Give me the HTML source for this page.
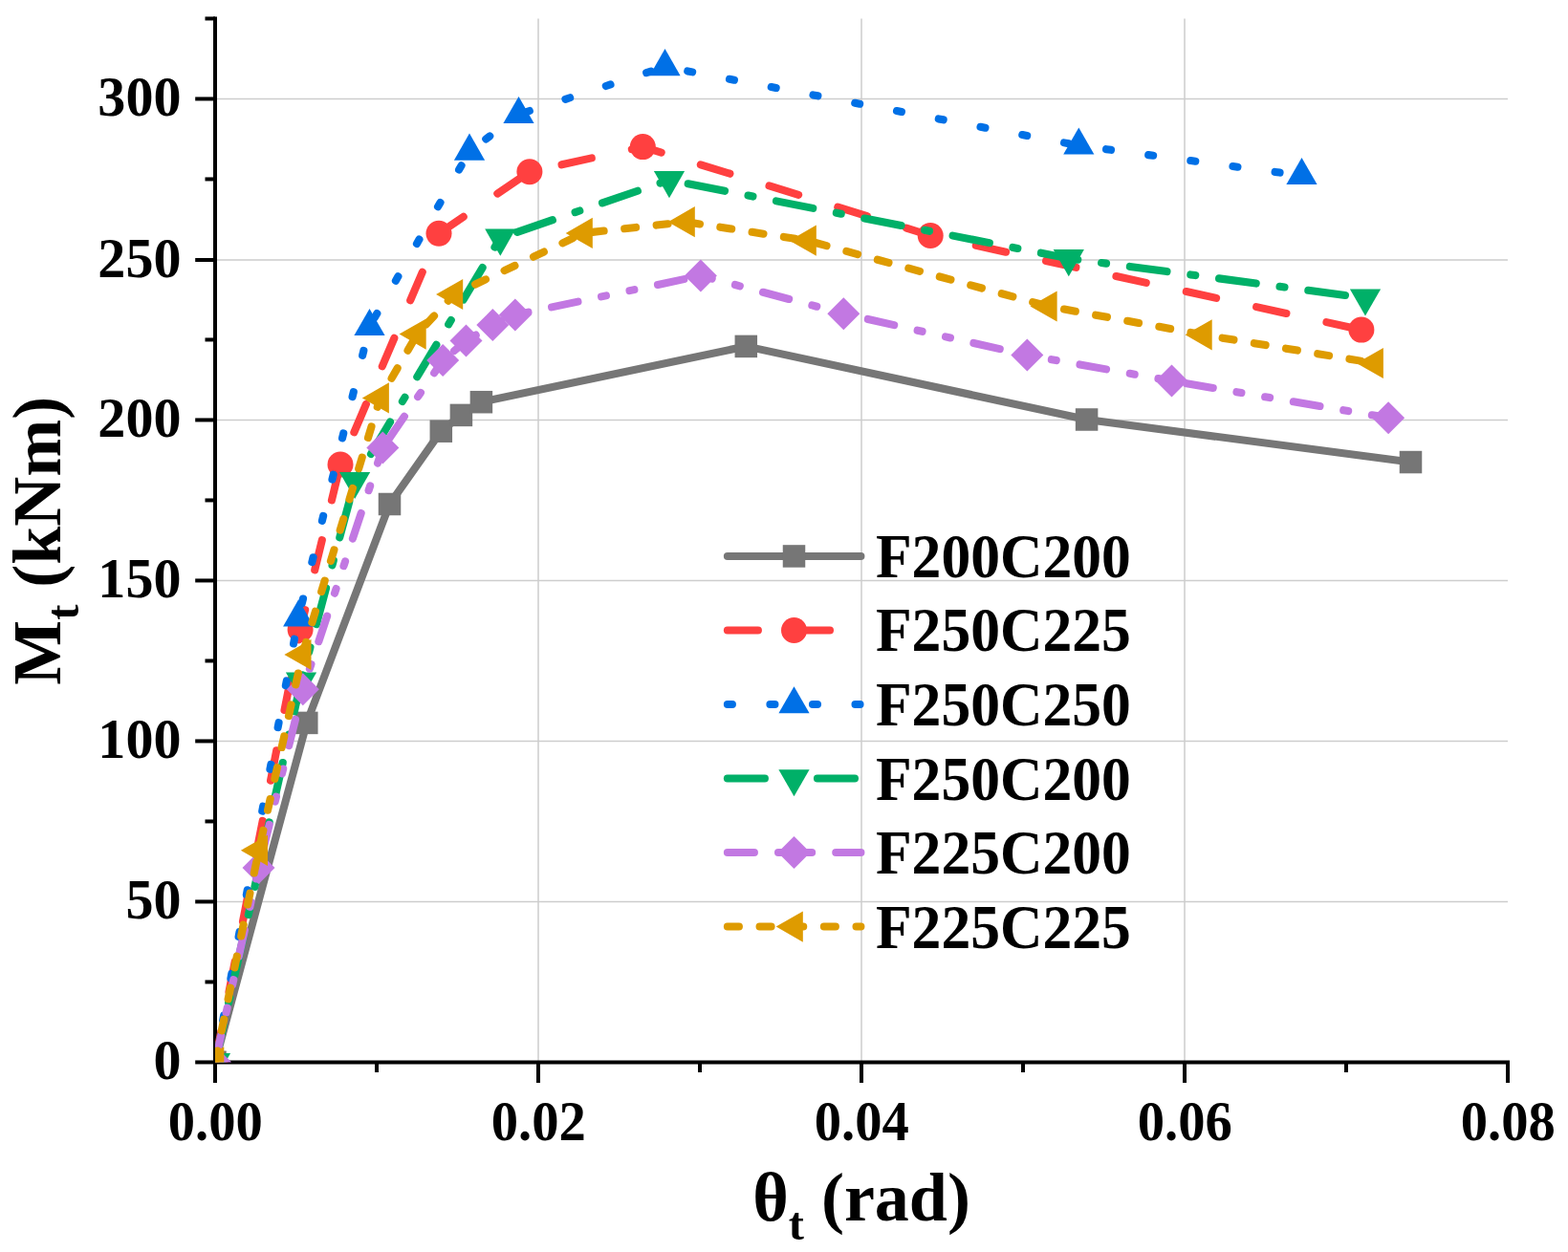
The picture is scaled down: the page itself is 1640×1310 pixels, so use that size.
<!DOCTYPE html>
<html lang="en"><head><meta charset="utf-8"><title>Moment-rotation curves</title>
<style>html,body{margin:0;padding:0;background:#fff}body{width:1640px;height:1310px;overflow:hidden}svg{display:block}text{font-family:'Liberation Serif', 'DejaVu Serif', serif;font-weight:bold;fill:#000}</style>
</head><body>
<svg width="1640" height="1310" viewBox="0 0 1640 1310">
<rect width="1640" height="1310" fill="#fff"/>
<defs><clipPath id="plot"><rect x="225" y="19.45" width="1372" height="1092"/></clipPath></defs>
<g stroke="#cdcdcd" stroke-width="1.5" fill="none">
<line x1="225" y1="943.45" x2="1577" y2="943.45"/>
<line x1="225" y1="775.45" x2="1577" y2="775.45"/>
<line x1="225" y1="607.45" x2="1577" y2="607.45"/>
<line x1="225" y1="439.45" x2="1577" y2="439.45"/>
<line x1="225" y1="272" x2="1577" y2="272"/>
<line x1="225" y1="103.45" x2="1577" y2="103.45"/>
<line x1="563" y1="19.45" x2="563" y2="1111.45"/>
<line x1="901" y1="19.45" x2="901" y2="1111.45"/>
<line x1="1239" y1="19.45" x2="1239" y2="1111.45"/>
</g>
<g stroke="#000" stroke-width="4" fill="none" stroke-linecap="butt">
<line x1="225" y1="17.45" x2="225" y2="1113.45"/>
<line x1="223" y1="1111.45" x2="1579" y2="1111.45"/>
<line x1="204.2" y1="1111.45" x2="225" y2="1111.45"/>
<line x1="214.5" y1="1027.45" x2="225" y2="1027.45"/>
<line x1="204.2" y1="943.45" x2="225" y2="943.45"/>
<line x1="214.5" y1="859.45" x2="225" y2="859.45"/>
<line x1="204.2" y1="775.45" x2="225" y2="775.45"/>
<line x1="214.5" y1="691.45" x2="225" y2="691.45"/>
<line x1="204.2" y1="607.45" x2="225" y2="607.45"/>
<line x1="214.5" y1="523.45" x2="225" y2="523.45"/>
<line x1="204.2" y1="439.45" x2="225" y2="439.45"/>
<line x1="214.5" y1="355.45" x2="225" y2="355.45"/>
<line x1="204.2" y1="272" x2="225" y2="272"/>
<line x1="214.5" y1="187.45" x2="225" y2="187.45"/>
<line x1="204.2" y1="103.45" x2="225" y2="103.45"/>
<line x1="214.5" y1="19.45" x2="225" y2="19.45"/>
<line x1="225" y1="1111.45" x2="225" y2="1133"/>
<line x1="394" y1="1111.45" x2="394" y2="1122"/>
<line x1="563" y1="1111.45" x2="563" y2="1133"/>
<line x1="732" y1="1111.45" x2="732" y2="1122"/>
<line x1="901" y1="1111.45" x2="901" y2="1133"/>
<line x1="1070" y1="1111.45" x2="1070" y2="1122"/>
<line x1="1239" y1="1111.45" x2="1239" y2="1133"/>
<line x1="1408" y1="1111.45" x2="1408" y2="1122"/>
<line x1="1577" y1="1111.45" x2="1577" y2="1133"/>
</g>
<g clip-path="url(#plot)">
<path d="M225 1111.3 L320.8 756.4 L407.5 527.5 L461.3 451.2 L482.4 434.4 L503.4 420.7 L780.3 362.4 L1136.6 439 L1475.5 483.55" fill="none" stroke="#767676" stroke-width="8.1" stroke-linecap="round" stroke-linejoin="round"/>
<rect x="213.25" y="1099.55" width="23.5" height="23.5" fill="#767676"/>
<rect x="309.05" y="744.65" width="23.5" height="23.5" fill="#767676"/>
<rect x="395.75" y="515.75" width="23.5" height="23.5" fill="#767676"/>
<rect x="449.55" y="439.45" width="23.5" height="23.5" fill="#767676"/>
<rect x="470.65" y="422.65" width="23.5" height="23.5" fill="#767676"/>
<rect x="491.65" y="408.95" width="23.5" height="23.5" fill="#767676"/>
<rect x="768.55" y="350.65" width="23.5" height="23.5" fill="#767676"/>
<rect x="1124.85" y="427.25" width="23.5" height="23.5" fill="#767676"/>
<rect x="1463.75" y="471.8" width="23.5" height="23.5" fill="#767676"/>
<path d="M225 1111.3 L314.1 658.8" fill="none" stroke="#FF4040" stroke-width="8.1" stroke-linecap="round" stroke-linejoin="round" stroke-dasharray="32 43.07"/>
<path d="M314.1 658.8 L356 486" fill="none" stroke="#FF4040" stroke-width="8.1" stroke-linecap="round" stroke-linejoin="round" stroke-dasharray="32 43.07" stroke-dashoffset="10.77"/>
<path d="M356 486 L459 244.3" fill="none" stroke="#FF4040" stroke-width="8.1" stroke-linecap="round" stroke-linejoin="round" stroke-dasharray="32 43.07" stroke-dashoffset="38.44"/>
<path d="M459 244.3 L553.9 179.7" fill="none" stroke="#FF4040" stroke-width="8.1" stroke-linecap="round" stroke-linejoin="round" stroke-dasharray="32 43.07" stroke-dashoffset="0.89"/>
<path d="M553.9 179.7 L672.3 153.6" fill="none" stroke="#FF4040" stroke-width="8.1" stroke-linecap="round" stroke-linejoin="round" stroke-dasharray="32 43.07" stroke-dashoffset="40.62"/>
<path d="M672.3 153.6 L973.2 246.5" fill="none" stroke="#FF4040" stroke-width="8.1" stroke-linecap="round" stroke-linejoin="round" stroke-dasharray="32 43.07" stroke-dashoffset="11.72"/>
<path d="M973.2 246.5 L1423.9 345.1" fill="none" stroke="#FF4040" stroke-width="8.1" stroke-linecap="round" stroke-linejoin="round" stroke-dasharray="32 43.07" stroke-dashoffset="26.36"/>
<circle cx="225" cy="1111.3" r="13.5" fill="#FF4040"/>
<circle cx="314.1" cy="658.8" r="13.5" fill="#FF4040"/>
<circle cx="356" cy="486" r="13.5" fill="#FF4040"/>
<circle cx="459" cy="244.3" r="13.5" fill="#FF4040"/>
<circle cx="553.9" cy="179.7" r="13.5" fill="#FF4040"/>
<circle cx="672.3" cy="153.6" r="13.5" fill="#FF4040"/>
<circle cx="973.2" cy="246.5" r="13.5" fill="#FF4040"/>
<circle cx="1423.9" cy="345.1" r="13.5" fill="#FF4040"/>
<path d="M225 1111.3 L312.2 646.1" fill="none" stroke="#0070E6" stroke-width="8.1" stroke-linecap="round" stroke-linejoin="round" stroke-dasharray="5 39.54"/>
<path d="M312.2 646.1 L386.5 341.7" fill="none" stroke="#0070E6" stroke-width="8.1" stroke-linecap="round" stroke-linejoin="round" stroke-dasharray="5 39.54" stroke-dashoffset="29.4"/>
<path d="M386.5 341.7 L491 158.4" fill="none" stroke="#0070E6" stroke-width="8.1" stroke-linecap="round" stroke-linejoin="round" stroke-dasharray="5 39.54" stroke-dashoffset="33.76"/>
<path d="M491 158.4 L542.5 119.7" fill="none" stroke="#0070E6" stroke-width="8.1" stroke-linecap="round" stroke-linejoin="round" stroke-dasharray="5 39.54" stroke-dashoffset="22.95"/>
<path d="M542.5 119.7 L695.5 69.9" fill="none" stroke="#0070E6" stroke-width="8.1" stroke-linecap="round" stroke-linejoin="round" stroke-dasharray="5 39.54" stroke-dashoffset="37.63"/>
<path d="M695.5 69.9 L1128.3 152.3" fill="none" stroke="#0070E6" stroke-width="8.1" stroke-linecap="round" stroke-linejoin="round" stroke-dasharray="5 39.54" stroke-dashoffset="20.38"/>
<path d="M1128.3 152.3 L1361.5 183.7" fill="none" stroke="#0070E6" stroke-width="8.1" stroke-linecap="round" stroke-linejoin="round" stroke-dasharray="5 39.54" stroke-dashoffset="15.55"/>
<polygon points="225,1092.5 208.9,1120.6 241.1,1120.6" fill="#0070E6"/>
<polygon points="312.2,627.3 296.1,655.4 328.3,655.4" fill="#0070E6"/>
<polygon points="386.5,322.9 370.4,351 402.6,351" fill="#0070E6"/>
<polygon points="491,139.6 474.9,167.7 507.1,167.7" fill="#0070E6"/>
<polygon points="542.5,100.9 526.4,129 558.6,129" fill="#0070E6"/>
<polygon points="695.5,51.1 679.4,79.2 711.6,79.2" fill="#0070E6"/>
<polygon points="1128.3,133.5 1112.2,161.6 1144.4,161.6" fill="#0070E6"/>
<polygon points="1361.5,164.9 1345.4,193 1377.6,193" fill="#0070E6"/>
<path d="M225 1111.3 L315 712.7" fill="none" stroke="#00B068" stroke-width="8.1" stroke-linecap="round" stroke-linejoin="round" stroke-dasharray="39 25.03 5 25.03"/>
<path d="M315 712.7 L371.1 503.2" fill="none" stroke="#00B068" stroke-width="8.1" stroke-linecap="round" stroke-linejoin="round" stroke-dasharray="39 25.03 5 25.03" stroke-dashoffset="32.39"/>
<path d="M371.1 503.2 L523.3 248.9" fill="none" stroke="#00B068" stroke-width="8.1" stroke-linecap="round" stroke-linejoin="round" stroke-dasharray="39 25.03 5 25.03" stroke-dashoffset="61.16"/>
<path d="M523.3 248.9 L700 188.4" fill="none" stroke="#00B068" stroke-width="8.1" stroke-linecap="round" stroke-linejoin="round" stroke-dasharray="39 25.03 5 25.03" stroke-dashoffset="75.34"/>
<path d="M700 188.4 L1117.8 270.4" fill="none" stroke="#00B068" stroke-width="8.1" stroke-linecap="round" stroke-linejoin="round" stroke-dasharray="39 25.03 5 25.03" stroke-dashoffset="73.99"/>
<path d="M1117.8 270.4 L1428 311.8" fill="none" stroke="#00B068" stroke-width="8.1" stroke-linecap="round" stroke-linejoin="round" stroke-dasharray="39 25.03 5 25.03" stroke-dashoffset="29.46"/>
<polygon points="225,1130.1 208.9,1102 241.1,1102" fill="#00B068"/>
<polygon points="315,731.5 298.9,703.4 331.1,703.4" fill="#00B068"/>
<polygon points="371.1,522 355,493.9 387.2,493.9" fill="#00B068"/>
<polygon points="523.3,267.7 507.2,239.6 539.4,239.6" fill="#00B068"/>
<polygon points="700,207.2 683.9,179.1 716.1,179.1" fill="#00B068"/>
<polygon points="1117.8,289.2 1101.7,261.1 1133.9,261.1" fill="#00B068"/>
<polygon points="1428,330.6 1411.9,302.5 1444.1,302.5" fill="#00B068"/>
<path d="M225 1111.3 L270.5 908.1" fill="none" stroke="#C278E2" stroke-width="8.1" stroke-linecap="round" stroke-linejoin="round" stroke-dasharray="28 25.12 5 25.12 5 25.12"/>
<path d="M270.5 908.1 L316.8 721.2" fill="none" stroke="#C278E2" stroke-width="8.1" stroke-linecap="round" stroke-linejoin="round" stroke-dasharray="28 25.12 5 25.12 5 25.12" stroke-dashoffset="94.87"/>
<path d="M316.8 721.2 L400.3 468.6" fill="none" stroke="#C278E2" stroke-width="8.1" stroke-linecap="round" stroke-linejoin="round" stroke-dasharray="28 25.12 5 25.12 5 25.12" stroke-dashoffset="60.7"/>
<path d="M400.3 468.6 L463.2 377.1" fill="none" stroke="#C278E2" stroke-width="8.1" stroke-linecap="round" stroke-linejoin="round" stroke-dasharray="28 25.12 5 25.12 5 25.12" stroke-dashoffset="101.52"/>
<path d="M463.2 377.1 L487.5 356.6" fill="none" stroke="#C278E2" stroke-width="8.1" stroke-linecap="round" stroke-linejoin="round" stroke-dasharray="28 25.12 5 25.12 5 25.12" stroke-dashoffset="97.7"/>
<path d="M487.5 356.6 L515.3 340.1" fill="none" stroke="#C278E2" stroke-width="8.1" stroke-linecap="round" stroke-linejoin="round" stroke-dasharray="28 25.12 5 25.12 5 25.12" stroke-dashoffset="16.13"/>
<path d="M515.3 340.1 L538.8 329.5" fill="none" stroke="#C278E2" stroke-width="8.1" stroke-linecap="round" stroke-linejoin="round" stroke-dasharray="28 25.12 5 25.12 5 25.12" stroke-dashoffset="48.46"/>
<path d="M538.8 329.5 L732.9 288.4" fill="none" stroke="#C278E2" stroke-width="8.1" stroke-linecap="round" stroke-linejoin="round" stroke-dasharray="28 25.12 5 25.12 5 25.12" stroke-dashoffset="74.24"/>
<path d="M732.9 288.4 L882.3 328.2" fill="none" stroke="#C278E2" stroke-width="8.1" stroke-linecap="round" stroke-linejoin="round" stroke-dasharray="28 25.12 5 25.12 5 25.12" stroke-dashoffset="45.92"/>
<path d="M882.3 328.2 L1074.3 371.6" fill="none" stroke="#C278E2" stroke-width="8.1" stroke-linecap="round" stroke-linejoin="round" stroke-dasharray="28 25.12 5 25.12 5 25.12" stroke-dashoffset="87.17"/>
<path d="M1074.3 371.6 L1225.5 398.6" fill="none" stroke="#C278E2" stroke-width="8.1" stroke-linecap="round" stroke-linejoin="round" stroke-dasharray="28 25.12 5 25.12 5 25.12" stroke-dashoffset="57.3"/>
<path d="M1225.5 398.6 L1452.1 437.2" fill="none" stroke="#C278E2" stroke-width="8.1" stroke-linecap="round" stroke-linejoin="round" stroke-dasharray="28 25.12 5 25.12 5 25.12" stroke-dashoffset="97.53"/>
<polygon points="225,1094.3 242,1111.3 225,1128.3 208,1111.3" fill="#C278E2"/>
<polygon points="270.5,891.1 287.5,908.1 270.5,925.1 253.5,908.1" fill="#C278E2"/>
<polygon points="316.8,704.2 333.8,721.2 316.8,738.2 299.8,721.2" fill="#C278E2"/>
<polygon points="400.3,451.6 417.3,468.6 400.3,485.6 383.3,468.6" fill="#C278E2"/>
<polygon points="463.2,360.1 480.2,377.1 463.2,394.1 446.2,377.1" fill="#C278E2"/>
<polygon points="487.5,339.6 504.5,356.6 487.5,373.6 470.5,356.6" fill="#C278E2"/>
<polygon points="515.3,323.1 532.3,340.1 515.3,357.1 498.3,340.1" fill="#C278E2"/>
<polygon points="538.8,312.5 555.8,329.5 538.8,346.5 521.8,329.5" fill="#C278E2"/>
<polygon points="732.9,271.4 749.9,288.4 732.9,305.4 715.9,288.4" fill="#C278E2"/>
<polygon points="882.3,311.2 899.3,328.2 882.3,345.2 865.3,328.2" fill="#C278E2"/>
<polygon points="1074.3,354.6 1091.3,371.6 1074.3,388.6 1057.3,371.6" fill="#C278E2"/>
<polygon points="1225.5,381.6 1242.5,398.6 1225.5,415.6 1208.5,398.6" fill="#C278E2"/>
<polygon points="1452.1,420.2 1469.1,437.2 1452.1,454.2 1435.1,437.2" fill="#C278E2"/>
<path d="M225 1111.3 L270.7 889.8" fill="none" stroke="#DE9B00" stroke-width="8.1" stroke-linecap="round" stroke-linejoin="round" stroke-dasharray="12 21.66"/>
<path d="M270.7 889.8 L316.2 685" fill="none" stroke="#DE9B00" stroke-width="8.1" stroke-linecap="round" stroke-linejoin="round" stroke-dasharray="12 21.66" stroke-dashoffset="24.21"/>
<path d="M316.2 685 L397.6 416.4" fill="none" stroke="#DE9B00" stroke-width="8.1" stroke-linecap="round" stroke-linejoin="round" stroke-dasharray="12 21.66" stroke-dashoffset="32.04"/>
<path d="M397.6 416.4 L436.4 349.6" fill="none" stroke="#DE9B00" stroke-width="8.1" stroke-linecap="round" stroke-linejoin="round" stroke-dasharray="12 21.66" stroke-dashoffset="9.76"/>
<path d="M436.4 349.6 L474.9 308" fill="none" stroke="#DE9B00" stroke-width="8.1" stroke-linecap="round" stroke-linejoin="round" stroke-dasharray="12 21.66" stroke-dashoffset="19.69"/>
<path d="M474.9 308 L610.5 243.9" fill="none" stroke="#DE9B00" stroke-width="8.1" stroke-linecap="round" stroke-linejoin="round" stroke-dasharray="12 21.66" stroke-dashoffset="9.05"/>
<path d="M610.5 243.9 L717.5 232.2" fill="none" stroke="#DE9B00" stroke-width="8.1" stroke-linecap="round" stroke-linejoin="round" stroke-dasharray="12 21.66" stroke-dashoffset="24.4"/>
<path d="M717.5 232.2 L844.5 251.7" fill="none" stroke="#DE9B00" stroke-width="8.1" stroke-linecap="round" stroke-linejoin="round" stroke-dasharray="12 21.66" stroke-dashoffset="31.06"/>
<path d="M844.5 251.7 L1096.3 320.5" fill="none" stroke="#DE9B00" stroke-width="8.1" stroke-linecap="round" stroke-linejoin="round" stroke-dasharray="12 21.66" stroke-dashoffset="24.91"/>
<path d="M1096.3 320.5 L1258.4 350.3" fill="none" stroke="#DE9B00" stroke-width="8.1" stroke-linecap="round" stroke-linejoin="round" stroke-dasharray="12 21.66" stroke-dashoffset="16.66"/>
<path d="M1258.4 350.3 L1437.6 380" fill="none" stroke="#DE9B00" stroke-width="8.1" stroke-linecap="round" stroke-linejoin="round" stroke-dasharray="12 21.66" stroke-dashoffset="13.17"/>
<polygon points="206.2,1111.3 234.3,1095.2 234.3,1127.4" fill="#DE9B00"/>
<polygon points="251.9,889.8 280,873.7 280,905.9" fill="#DE9B00"/>
<polygon points="297.4,685 325.5,668.9 325.5,701.1" fill="#DE9B00"/>
<polygon points="378.8,416.4 406.9,400.3 406.9,432.5" fill="#DE9B00"/>
<polygon points="417.6,349.6 445.7,333.5 445.7,365.7" fill="#DE9B00"/>
<polygon points="456.1,308 484.2,291.9 484.2,324.1" fill="#DE9B00"/>
<polygon points="591.7,243.9 619.8,227.8 619.8,260" fill="#DE9B00"/>
<polygon points="698.7,232.2 726.8,216.1 726.8,248.3" fill="#DE9B00"/>
<polygon points="825.7,251.7 853.8,235.6 853.8,267.8" fill="#DE9B00"/>
<polygon points="1077.5,320.5 1105.6,304.4 1105.6,336.6" fill="#DE9B00"/>
<polygon points="1239.6,350.3 1267.7,334.2 1267.7,366.4" fill="#DE9B00"/>
<polygon points="1418.8,380 1446.9,363.9 1446.9,396.1" fill="#DE9B00"/>
</g>
<g font-size="58.3" text-anchor="end">
<text transform="translate(189.5 1129.35) scale(0.997 1)">0</text>
<text transform="translate(189.5 961.35) scale(0.997 1)">50</text>
<text transform="translate(189.5 793.35) scale(0.997 1)">100</text>
<text transform="translate(189.5 625.35) scale(0.997 1)">150</text>
<text transform="translate(189.5 457.35) scale(0.997 1)">200</text>
<text transform="translate(189.5 289.9) scale(0.997 1)">250</text>
<text transform="translate(189.5 121.35) scale(0.997 1)">300</text>
</g>
<g font-size="58.3" text-anchor="middle">
<text transform="translate(225.3 1192.5) scale(0.971 1)">0.00</text>
<text transform="translate(563.3 1192.5) scale(0.971 1)">0.02</text>
<text transform="translate(901.3 1192.5) scale(0.971 1)">0.04</text>
<text transform="translate(1239.3 1192.5) scale(0.971 1)">0.06</text>
<text transform="translate(1577.3 1192.5) scale(0.971 1)">0.08</text>
</g>
<text font-size="72" x="787.2" y="1276.5">θ<tspan font-size="48.5" dy="20">t</tspan><tspan dy="-20"> (rad)</tspan></text>
<text font-size="72" transform="translate(63 716.8) rotate(-90) scale(1 1.008)" x="0" y="0">M<tspan font-size="48.5" dy="19">t</tspan><tspan dy="-19"> (kNm)</tspan></text>
<path d="M760.9 581.95 L900.4 581.95" fill="none" stroke="#767676" stroke-width="8.1" stroke-linecap="round" stroke-linejoin="round"/>
<rect x="818.75" y="570.2" width="23.5" height="23.5" fill="#767676"/>
<text font-size="62" transform="translate(916 603.95) scale(0.993 1.045)">F200C200</text>
<path d="M760.9 659.47 L900.4 659.47" fill="none" stroke="#FF4040" stroke-width="8.1" stroke-linecap="round" stroke-linejoin="round" stroke-dasharray="32 43.07"/>
<circle cx="830.5" cy="659.47" r="13.5" fill="#FF4040"/>
<text font-size="62" transform="translate(916 681.47) scale(0.993 1.045)">F250C225</text>
<path d="M760.9 736.99 L900.4 736.99" fill="none" stroke="#0070E6" stroke-width="8.1" stroke-linecap="round" stroke-linejoin="round" stroke-dasharray="5 39.54"/>
<polygon points="830.5,718.19 814.4,746.29 846.6,746.29" fill="#0070E6"/>
<text font-size="62" transform="translate(916 758.99) scale(0.993 1.045)">F250C250</text>
<path d="M760.9 814.51 L900.4 814.51" fill="none" stroke="#00B068" stroke-width="8.1" stroke-linecap="round" stroke-linejoin="round" stroke-dasharray="39 25.03 5 25.03"/>
<polygon points="830.5,833.31 814.4,805.21 846.6,805.21" fill="#00B068"/>
<text font-size="62" transform="translate(916 836.51) scale(0.993 1.045)">F250C200</text>
<path d="M760.9 892.03 L900.4 892.03" fill="none" stroke="#C278E2" stroke-width="8.1" stroke-linecap="round" stroke-linejoin="round" stroke-dasharray="28 25.12 5 25.12 5 25.12"/>
<polygon points="830.5,875.03 847.5,892.03 830.5,909.03 813.5,892.03" fill="#C278E2"/>
<text font-size="62" transform="translate(916 914.03) scale(0.993 1.045)">F225C200</text>
<path d="M760.9 969.55 L900.4 969.55" fill="none" stroke="#DE9B00" stroke-width="8.1" stroke-linecap="round" stroke-linejoin="round" stroke-dasharray="12 21.66"/>
<polygon points="811.7,969.55 839.8,953.45 839.8,985.65" fill="#DE9B00"/>
<text font-size="62" transform="translate(916 991.55) scale(0.993 1.045)">F225C225</text>
</svg>
</body></html>
